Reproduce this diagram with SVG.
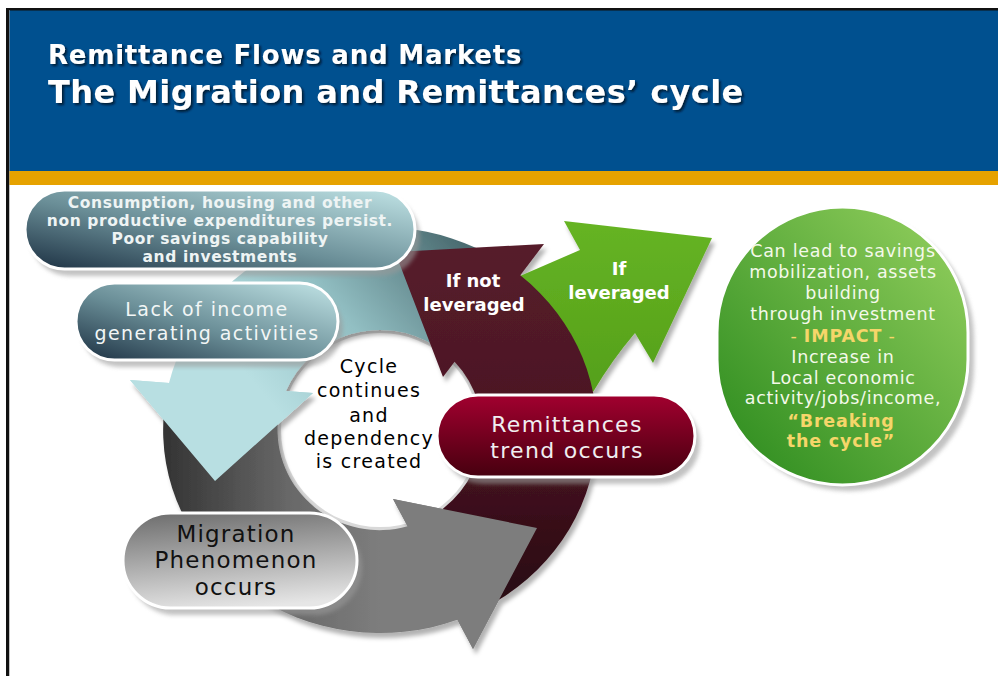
<svg xmlns="http://www.w3.org/2000/svg" width="998" height="676" viewBox="0 0 998 676">
<style>
.ttl{font-family:"DejaVu Sans",Verdana,sans-serif;font-weight:bold;fill:#ffffff}
.b15{font-family:"DejaVu Sans",Verdana,sans-serif;font-weight:bold;font-size:15.5px;letter-spacing:0.6px;fill:#eef4f4;text-anchor:middle}
.r19{font-family:"DejaVu Sans",Verdana,sans-serif;font-size:19px;letter-spacing:1.4px;fill:#f2f6f6;text-anchor:middle}
.ctr{font-family:"DejaVu Sans",Verdana,sans-serif;font-size:19px;letter-spacing:1.3px;fill:#000;text-anchor:middle}
.mig{font-family:"DejaVu Sans",Verdana,sans-serif;font-size:23px;letter-spacing:1.2px;fill:#111;text-anchor:middle}
.rem{font-family:"DejaVu Sans",Verdana,sans-serif;font-size:22px;letter-spacing:1.3px;fill:#f0eef0;text-anchor:middle}
.arr{font-family:"DejaVu Sans",Verdana,sans-serif;font-weight:bold;font-size:18px;fill:#ffffff;text-anchor:middle}
.grn{font-family:"DejaVu Sans",Verdana,sans-serif;font-size:17.5px;letter-spacing:0.7px;fill:#f4f9ea;text-anchor:middle}
.yel{font-family:"DejaVu Sans",Verdana,sans-serif;font-weight:bold;font-size:17.5px;letter-spacing:0.8px;fill:#f6d66a;text-anchor:middle}
.pill{stroke:#ffffff;stroke-width:3}
.shd{fill:#9a9a9a;opacity:0.6}
</style>
<defs>
<linearGradient id="gTealPill" x1="0" y1="1" x2="1" y2="0">
<stop offset="0" stop-color="#1c3042"/><stop offset="0.45" stop-color="#6a8e97"/><stop offset="1" stop-color="#c2e5e7"/>
</linearGradient>
<linearGradient id="gGrayPill" x1="0.3" y1="0" x2="0.5" y2="1">
<stop offset="0" stop-color="#727272"/><stop offset="1" stop-color="#e6e6e6"/>
</linearGradient>
<linearGradient id="gRedPill" x1="0" y1="0" x2="0" y2="1">
<stop offset="0" stop-color="#a2002f"/><stop offset="1" stop-color="#46000f"/>
</linearGradient>
<linearGradient id="gGreen" x1="1" y1="0" x2="0" y2="1">
<stop offset="0" stop-color="#97d260"/><stop offset="1" stop-color="#27881b"/>
</linearGradient>
<linearGradient id="gTeal" gradientUnits="userSpaceOnUse" x1="450" y1="230" x2="260" y2="390">
<stop offset="0" stop-color="#4b6c71"/><stop offset="0.55" stop-color="#92bfc3"/><stop offset="1" stop-color="#b8dfe2"/>
</linearGradient>
<linearGradient id="gGray" gradientUnits="userSpaceOnUse" x1="165" y1="0" x2="380" y2="0">
<stop offset="0" stop-color="#343434"/><stop offset="0.6" stop-color="#6a6a6a"/><stop offset="1" stop-color="#7d7d7d"/>
</linearGradient>
<linearGradient id="gMaroon" gradientUnits="userSpaceOnUse" x1="0" y1="250" x2="0" y2="620">
<stop offset="0" stop-color="#561c2b"/><stop offset="0.5" stop-color="#4a1622"/><stop offset="1" stop-color="#24070f"/>
</linearGradient>
<linearGradient id="gGreenArr" gradientUnits="userSpaceOnUse" x1="0" y1="220" x2="0" y2="390">
<stop offset="0" stop-color="#66b424"/><stop offset="1" stop-color="#55a01a"/>
</linearGradient>
<filter id="fs" x="-10%" y="-10%" width="130%" height="130%">
<feDropShadow dx="3" dy="5" stdDeviation="2" flood-color="#000" flood-opacity="0.3"/>
</filter>
<filter id="fb" x="-10%" y="-10%" width="130%" height="140%">
<feGaussianBlur stdDeviation="2"/>
</filter>
<filter id="ft" x="-5%" y="-20%" width="110%" height="150%">
<feDropShadow dx="2" dy="2" stdDeviation="1" flood-color="#001020" flood-opacity="0.8"/>
</filter>
</defs>

<rect x="0" y="0" width="998" height="676" fill="#ffffff"/>

<g id="header">
<rect x="9" y="10" width="989" height="162" fill="#00508f"/>
<rect x="9" y="171" width="989" height="14" fill="#e6a200"/>
<rect x="6" y="8" width="992" height="2.5" fill="#111"/>
<rect x="6" y="8" width="3" height="668" fill="#111"/>
<rect x="9" y="10" width="1" height="666" fill="#999" opacity="0.6"/>
<g filter="url(#ft)">
<text class="ttl" x="48" y="64" font-size="26" letter-spacing="0.8">Remittance Flows and Markets</text>
<text class="ttl" x="48" y="103" font-size="32" letter-spacing="0.4">The Migration and Remittances’ cycle</text>
</g>
</g>

<g id="connectors">
<ellipse cx="380" cy="430" rx="107" ry="105" fill="#d9d9d9"/>
<ellipse cx="380" cy="430" rx="99" ry="97" fill="#ffffff"/>
<g filter="url(#fs)">
<path id="arrow-green" d="M 520,276 L 580,250 L 564,221 L 712,238 L 653,363 L 635,333 Q 612,360 593,392 L 540,330 Z" fill="url(#gGreenArr)"/>
<path id="arrow-teal" d="M 498.2,259.7 A 217 203 0 0 0 169,383 L 130,380 L 215,481 L 313,393 L 286,391 A 102 100 0 0 1 435.5,346 Z" fill="url(#gTeal)"/>
<path id="arrow-gray" d="M 164,412 A 217 203 0 0 0 457.4,619.8 L 473,649 L 537,528 L 393,499 L 407.6,526.3 A 102 100 0 0 1 278,421 Z" fill="url(#gGray)"/>
<path id="arrow-maroon" d="M 471.7,614 A 217 203 0 0 0 520.3,275.3 L 544,244 L 395,252 L 443,377 L 454.6,361.7 A 102 100 0 0 1 423.1,520.6 Z" fill="url(#gMaroon)"/>
<path id="head-gray" d="M 457.4,619.8 L 473,649 L 537,528 L 393,499 L 407.6,526.3 Z" fill="url(#gGray)"/>
<path id="head-teal" d="M 169,383 L 130,380 L 215,481 L 313,393 L 286,391 Z" fill="url(#gTeal)"/>
</g>
<text class="arr" x="473" y="287">If not</text>
<text class="arr" x="474" y="311">leveraged</text>
<text class="arr" x="619" y="275">If</text>
<text class="arr" x="619" y="299">leveraged</text>
</g>

<g id="node-center">
<text class="ctr" x="369" y="373">Cycle</text>
<text class="ctr" x="369" y="397">continues</text>
<text class="ctr" x="369" y="422">and</text>
<text class="ctr" x="369" y="445">dependency</text>
<text class="ctr" x="369" y="468">is created</text>
</g>

<g id="node-consumption">
<rect class="shd" x="30" y="197" width="390" height="79" rx="39.5" filter="url(#fb)"/>
<rect class="pill" x="25" y="190" width="390" height="79" rx="39.5" fill="url(#gTealPill)"/>
<text class="b15" x="220" y="208">Consumption, housing and other</text>
<text class="b15" x="220" y="226">non productive expenditures persist.</text>
<text class="b15" x="220" y="244">Poor savings capability</text>
<text class="b15" x="220" y="262">and investments</text>
</g>

<g id="node-lack">
<rect class="shd" x="81" y="290" width="262" height="77" rx="38.5" filter="url(#fb)"/>
<rect class="pill" x="76" y="283" width="262" height="77" rx="38.5" fill="url(#gTealPill)"/>
<text class="r19" x="207" y="316">Lack of income</text>
<text class="r19" x="207" y="340">generating activities</text>
</g>

<g id="node-migration">
<rect class="shd" x="128" y="520" width="234" height="95" rx="47.5" filter="url(#fb)"/>
<rect class="pill" x="123" y="513" width="234" height="95" rx="47.5" fill="url(#gGrayPill)"/>
<text class="mig" x="236" y="542">Migration</text>
<text class="mig" x="236" y="568">Phenomenon</text>
<text class="mig" x="236" y="595">occurs</text>
</g>

<g id="node-remittances">
<rect class="shd" x="442" y="402" width="258" height="82" rx="41" filter="url(#fb)"/>
<rect class="pill" x="437" y="395" width="258" height="82" rx="41" fill="url(#gRedPill)"/>
<text class="rem" x="567" y="432">Remittances</text>
<text class="rem" x="567" y="458">trend occurs</text>
</g>

<g id="node-impact">
<rect class="shd" x="723" y="213" width="251" height="278" rx="125.5" filter="url(#fb)"/>
<rect class="pill" x="717" y="207" width="251" height="278" rx="125.5" fill="url(#gGreen)"/>
<text class="grn" x="843" y="257">Can lead to savings</text>
<text class="grn" x="843" y="278">mobilization, assets</text>
<text class="grn" x="843" y="299">building</text>
<text class="grn" x="843" y="320">through investment</text>
<text class="yel" x="843" y="342"><tspan font-weight="normal">- </tspan>IMPACT<tspan font-weight="normal"> -</tspan></text>
<text class="grn" x="843" y="363">Increase in</text>
<text class="grn" x="843" y="384">Local economic</text>
<text class="grn" x="843" y="404">activity/jobs/income,</text>
<text class="yel" x="841" y="427">“Breaking</text>
<text class="yel" x="841" y="447">the cycle”</text>
</g>
</svg>
